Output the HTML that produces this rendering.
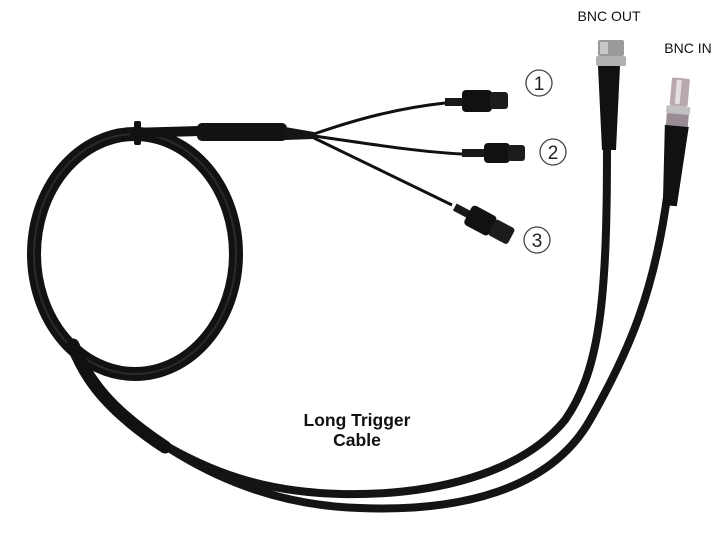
<!DOCTYPE html>
<html><head><style>
html,body{margin:0;padding:0;background:#fff;}
svg{display:block;}
text{font-family:"Liberation Sans",Arial,sans-serif;}
</style></head><body>
<svg width="723" height="533" viewBox="0 0 723 533" xmlns="http://www.w3.org/2000/svg">
<rect width="723" height="533" fill="#fff"/>
<!-- loop -->
<ellipse cx="135" cy="254" rx="101" ry="120" fill="none" stroke="#121212" stroke-width="14"/>
<ellipse cx="135" cy="254" rx="101" ry="120" fill="none" stroke="#2a2a2a" stroke-width="2"/>
<!-- lower strands -->
<path d="M75 352 C90 385 120 420 170 448 C220 476 270 492 340 494 C430 496 520 475 565 420 C600 370 607 300 607 150" fill="none" stroke="#141414" stroke-width="8"/>
<path d="M78 352 C95 390 130 425 180 455 C230 485 290 506 360 508 C460 512 550 490 590 420 C630 350 655 290 668 190" fill="none" stroke="#141414" stroke-width="8"/>
<path d="M73 345 C87 382 112 412 165 447" fill="none" stroke="#111" stroke-width="13" stroke-linecap="round"/>
<!-- top cable -->
<path d="M130 133 L200 131" stroke="#111" stroke-width="10" fill="none"/>
<rect x="134" y="121" width="7" height="24" rx="2" fill="#111"/>
<rect x="197" y="123" width="90" height="18" rx="5" fill="#121212"/>
<path d="M285 127 L314 132 L314 139 L285 140 Z" fill="#151515"/>
<!-- branches -->
<path d="M314 134 C360 118 400 108 445 103" stroke="#111" stroke-width="3" fill="none"/>
<path d="M314 136 C370 144 420 152 462 154" stroke="#111" stroke-width="3" fill="none"/>
<path d="M314 138 C360 160 410 185 452 205" stroke="#111" stroke-width="3" fill="none"/>
<!-- connector 1 -->
<rect x="445" y="98" width="18" height="8" fill="#1a1a1a"/>
<rect x="462" y="90" width="30" height="22" rx="4" fill="#111"/>
<rect x="490" y="92" width="18" height="17" rx="3" fill="#1c1c1c"/>
<!-- connector 2 -->
<rect x="462" y="149" width="22" height="8" fill="#1a1a1a"/>
<rect x="484" y="143" width="26" height="20" rx="4" fill="#111"/>
<rect x="508" y="145" width="17" height="16" rx="3" fill="#1c1c1c"/>
<!-- connector 3 -->
<g transform="translate(483,222) rotate(28)">
<rect x="-32" y="-4" width="16" height="8" fill="#1a1a1a"/>
<rect x="-17" y="-11" width="28" height="22" rx="4" fill="#111"/>
<rect x="10" y="-9" width="22" height="18" rx="3" fill="#1c1c1c"/>
</g>
<!-- circles -->
<g fill="#fff" stroke="#444" stroke-width="1.3">
<circle cx="539" cy="83" r="13"/><circle cx="553" cy="152" r="13"/><circle cx="537" cy="240" r="13"/>
</g>
<g font-size="19" fill="#222" text-anchor="middle">
<text x="539" y="90">1</text><text x="553" y="159">2</text><text x="537" y="247">3</text>
</g>
<!-- BNC OUT -->
<rect x="598" y="40" width="26" height="16" rx="2" fill="#9a9a9a"/>
<rect x="600" y="42" width="8" height="12" fill="#c8c8c8"/>
<rect x="596" y="56" width="30" height="10" rx="2" fill="#b0b0b0"/>
<path d="M598 66 L620 66 L616 150 L602 150 Z" fill="#111"/>
<!-- BNC IN -->
<g transform="translate(680,78) rotate(5)">
<rect x="-8" y="0" width="18" height="28" rx="2" fill="#b8a8b0"/>
<rect x="-3" y="2" width="5" height="24" fill="#e6dde2"/>
<rect x="-11" y="28" width="24" height="8" rx="2" fill="#c0c0c0"/>
<rect x="-10" y="36" width="22" height="12" fill="#9a8c94"/>
<path d="M-11 48 L13 48 L8 128 L-6 128 Z" fill="#111"/>
</g>
<!-- labels -->
<text x="609" y="21" font-size="14" fill="#111" text-anchor="middle">BNC OUT</text>
<text x="688" y="53" font-size="14" fill="#111" text-anchor="middle">BNC IN</text>
<text x="357" y="426" font-size="17.5" font-weight="bold" fill="#111" text-anchor="middle">Long Trigger</text>
<text x="357" y="446" font-size="17.5" font-weight="bold" fill="#111" text-anchor="middle">Cable</text>
</svg>
</body></html>
